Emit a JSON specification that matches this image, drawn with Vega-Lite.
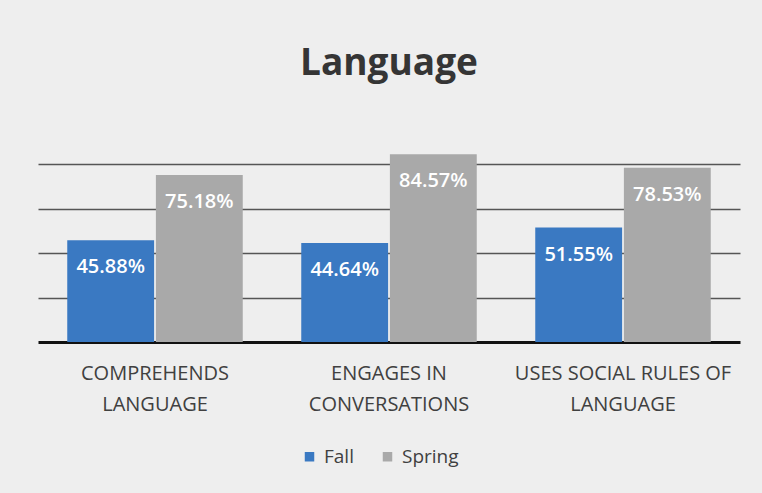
{
  "$schema": "https://vega.github.io/schema/vega-lite/v6.json",
  "width": 702,
  "height": 222,
  "autosize": "none",
  "padding": {"left": 38, "top": 120, "right": 22, "bottom": 151},
  "background": "#eeeeee",
  "title": {
    "text": "Language",
    "font": "Open Sans",
    "fontSize": 37,
    "fontWeight": "bold",
    "color": "#353535",
    "anchor": "middle",
    "baseline": "alphabetic",
    "offset": 8
  },
  "config": {
    "view": {"stroke": null},
    "font": "Open Sans"
  },
  "data": {
    "values": [
      {"skill": "COMPREHENDS LANGUAGE", "season": "Fall", "value": 0.4588},
      {"skill": "COMPREHENDS LANGUAGE", "season": "Spring", "value": 0.7518},
      {"skill": "ENGAGES IN CONVERSATIONS", "season": "Fall", "value": 0.4464},
      {"skill": "ENGAGES IN CONVERSATIONS", "season": "Spring", "value": 0.8457},
      {"skill": "USES SOCIAL RULES OF LANGUAGE", "season": "Fall", "value": 0.5155},
      {"skill": "USES SOCIAL RULES OF LANGUAGE", "season": "Spring", "value": 0.7853}
    ]
  },
  "encoding": {
    "x": {
      "field": "skill",
      "type": "nominal",
      "sort": null,
      "scale": {"paddingInner": 0.25, "paddingOuter": 0.125},
      "axis": {
        "title": null,
        "labelAngle": 0,
        "labelFontSize": 20,
        "labelColor": "#404040",
        "labelFont": "Open Sans",
        "labelLineHeight": 31,
        "labelPadding": 21,
        "labelBaseline": "top",
        "labelLimit": 300,
        "ticks": false,
        "domainColor": "#111111",
        "domainWidth": 3,
        "labelExpr": "datum.value == 'COMPREHENDS LANGUAGE' ? ['COMPREHENDS', 'LANGUAGE'] : datum.value == 'ENGAGES IN CONVERSATIONS' ? ['ENGAGES IN', 'CONVERSATIONS'] : ['USES SOCIAL RULES OF', 'LANGUAGE']"
      }
    },
    "xOffset": {"field": "season", "type": "nominal", "scale": {"paddingInner": 0.02}},
    "y": {
      "field": "value",
      "type": "quantitative",
      "scale": {"domain": [0, 1]},
      "axis": {
        "title": null,
        "labels": false,
        "ticks": false,
        "domain": false,
        "values": [0.2, 0.4, 0.6, 0.8],
        "gridColor": "#555555",
        "gridWidth": 1.5
      }
    }
  },
  "layer": [
    {
      "mark": {"type": "bar"},
      "encoding": {
        "color": {
          "field": "season",
          "type": "nominal",
          "scale": {"domain": ["Fall", "Spring"], "range": ["#3a79c2", "#a9a9a9"]},
          "legend": {
            "title": null,
            "orient": "none",
            "legendX": 262,
            "legendY": 327,
            "direction": "horizontal",
            "symbolType": "square",
            "symbolSize": 90,
            "labelOffset": 5,
            "labelFontSize": 19,
            "labelColor": "#404040",
            "labelFont": "Open Sans",
            "columnPadding": 24
          }
        }
      }
    },
    {
      "mark": {"type": "text", "color": "white", "fontSize": 20, "fontWeight": 600, "baseline": "middle", "dy": 27},
      "encoding": {
        "text": {"field": "value", "type": "quantitative", "format": ".2%"}
      }
    }
  ]
}
